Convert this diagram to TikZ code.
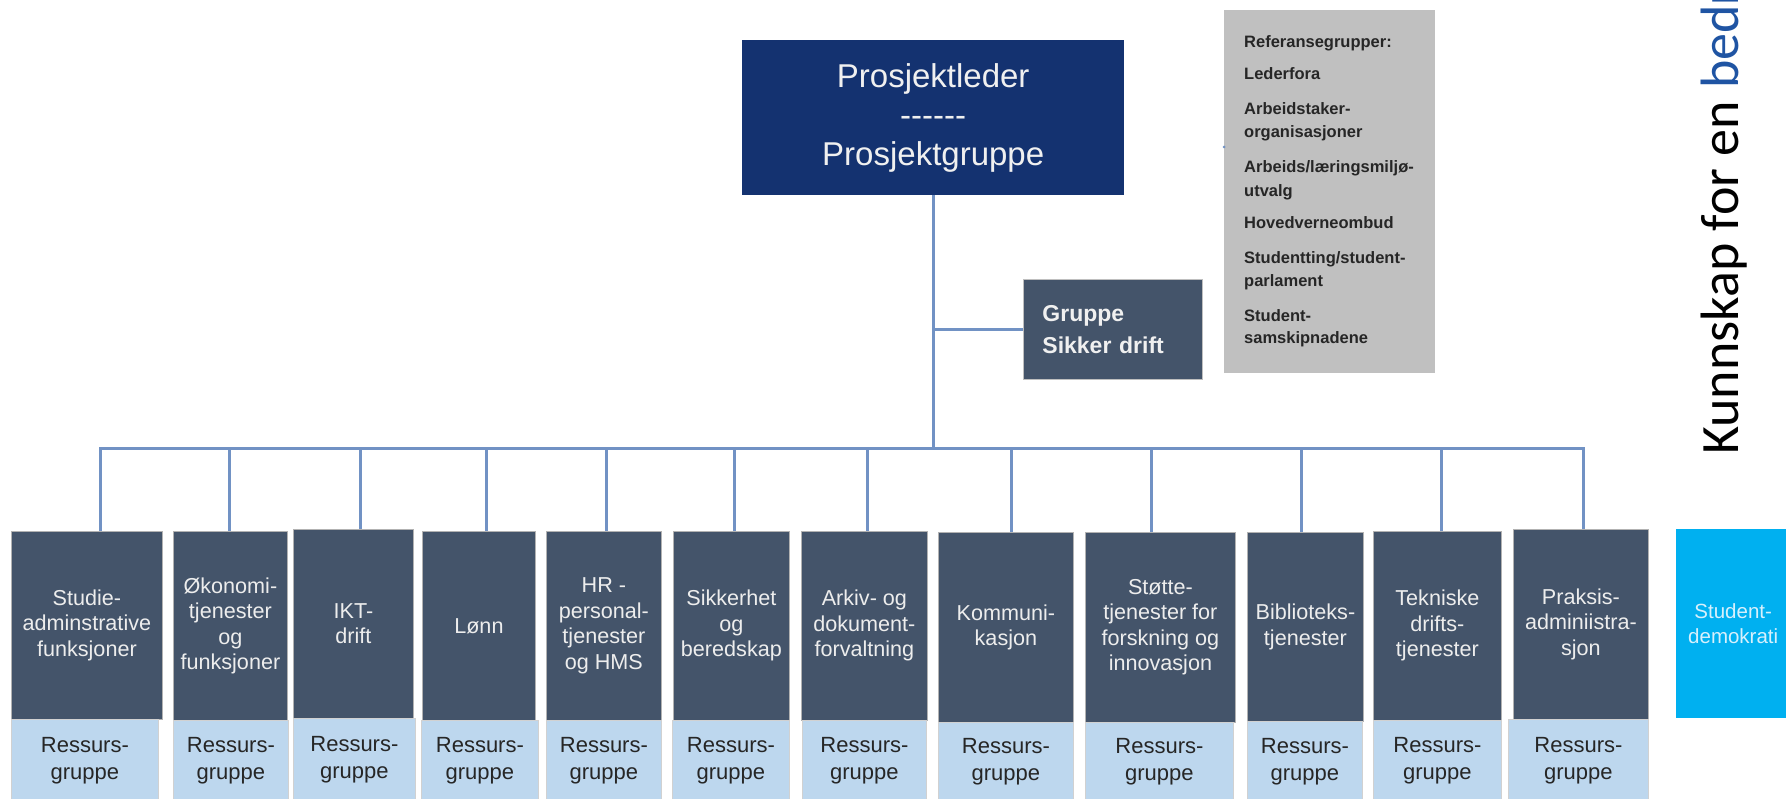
\documentclass[tikz,border=0pt]{standalone}
\usepackage{fontspec}
\setmainfont{Liberation Sans}
\newfontfamily\sloganfont{Carlito}
\definecolor{navy}{RGB}{20,50,112}
\definecolor{slate}{RGB}{68,84,106}
\definecolor{pale}{RGB}{189,215,238}
\definecolor{linkblue}{RGB}{113,146,196}
\definecolor{refgrey}{RGB}{192,192,192}
\definecolor{cyanbox}{RGB}{0,176,240}
\definecolor{sloganblue}{RGB}{31,84,163}
\begin{document}
\begin{tikzpicture}[x=1pt,y=-1pt,
  dark/.style={draw=black!30, line width=0.8pt, fill=slate, text=white!93!black, align=center,
    inner sep=0pt, anchor=north west, font=\fontsize{21.6}{25.5}\selectfont},
  palebox/.style={draw=black!18, line width=0.8pt, fill=pale, text=black!85, align=center,
    inner sep=0pt, anchor=north west, font=\fontsize{22}{27}\selectfont},
  link/.style={draw=linkblue, line width=3pt, line join=miter},
  reftxt/.style={anchor=base west, inner sep=0pt, text=black!85, font=\fontsize{16.5}{20}\selectfont\bfseries}]
\clip (0,0) rectangle (1786,799);
\fill[white] (0,0) rectangle (1786,799);

% top boxes
\node[fill=navy, inner sep=0pt, minimum width=382pt, minimum height=155pt, anchor=north west,
  text=white!94!black, align=center, font=\fontsize{33}{39}\selectfont] (pl) at (742,40)
  {Prosjektleder\\-\kern0pt-\kern0pt-\kern0pt-\kern0pt-\kern0pt-\\Prosjektgruppe};
\node[fill=slate, draw=black!25, line width=0.8pt, inner sep=0pt, minimum width=179pt, minimum height=100pt,
  anchor=north west, text=white!94!black, align=left, text width=141pt,
  font=\fontsize{23}{32}\selectfont\bfseries] (gsd) at (1023,279) {Gruppe\\Sikker drift};

% reference groups
\node[fill=refgrey, inner sep=0pt, minimum width=211pt, minimum height=363pt, anchor=north west] (ref) at (1224,10) {};
\node[reftxt] (r1) at (1244,48) {Referansegrupper:};
\node[reftxt] (r2) at (1244,80) {Lederfora};
\node[reftxt] (r3) at (1244,115) {Arbeidstaker-};
\node[reftxt] (r4) at (1244,138) {organisasjoner};
\node[reftxt] (r5) at (1244,173) {Arbeids/læringsmiljø-};
\node[reftxt] (r6) at (1244,197) {utvalg};
\node[reftxt] (r7) at (1244,229) {Hovedverneombud};
\node[reftxt] (r8) at (1244,264) {Studentting/student-};
\node[reftxt] (r9) at (1244,287) {parlament};
\node[reftxt] (r10) at (1244,322) {Student-};
\node[reftxt] (r11) at (1244,344) {samskipnadene};
\fill[linkblue] (1224,147) circle (1.5pt);

% unit boxes
\node[dark, minimum width=151pt, minimum height=188pt] (b1) at (11,531) {Studie-\\adminstrative\\funksjoner};
\node[dark, minimum width=114pt, minimum height=189pt] (b2) at (173,531) {Økonomi-\\tjenester\\og\\funksjoner};
\node[dark, minimum width=120pt, minimum height=189pt] (b3) at (293,529) {IKT-\\drift};
\node[dark, minimum width=113pt, minimum height=189pt] (b4) at (422,531) {Lønn};
\node[dark, minimum width=115pt, minimum height=189pt] (b5) at (546,531) {HR -\\personal-\\tjenester\\og HMS};
\node[dark, minimum width=116pt, minimum height=189pt] (b6) at (673,531) {Sikkerhet\\og\\beredskap};
\node[dark, minimum width=126pt, minimum height=189pt] (b7) at (801,531) {Arkiv- og\\dokument-\\forvaltning};
\node[dark, minimum width=135pt, minimum height=190pt] (b8) at (938,532) {Kommuni-\\kasjon};
\node[dark, minimum width=150pt, minimum height=190pt] (b9) at (1085,532) {Støtte-\\tjenester for\\forskning og\\innovasjon};
\node[dark, minimum width=116pt, minimum height=189pt] (b10) at (1247,532) {Biblioteks-\\tjenester};
\node[dark, minimum width=128pt, minimum height=189pt] (b11) at (1373,531) {Tekniske\\drifts-\\tjenester};
\node[dark, minimum width=135pt, minimum height=190pt] (b12) at (1513,529) {Praksis-\\adminiistra-\\sjon};

\node[palebox, minimum width=147pt, minimum height=82pt] (g1) at (11,719) {Ressurs-\\gruppe};
\node[palebox, minimum width=115pt, minimum height=81pt] (g2) at (173,720) {Ressurs-\\gruppe};
\node[palebox, minimum width=122pt, minimum height=83pt] (g3) at (293,718) {Ressurs-\\gruppe};
\node[palebox, minimum width=117pt, minimum height=81pt] (g4) at (421,720) {Ressurs-\\gruppe};
\node[palebox, minimum width=115pt, minimum height=81pt] (g5) at (546,720) {Ressurs-\\gruppe};
\node[palebox, minimum width=117pt, minimum height=81pt] (g6) at (672,720) {Ressurs-\\gruppe};
\node[palebox, minimum width=124pt, minimum height=81pt] (g7) at (802,720) {Ressurs-\\gruppe};
\node[palebox, minimum width=135pt, minimum height=79pt] (g8) at (938,722) {Ressurs-\\gruppe};
\node[palebox, minimum width=148pt, minimum height=79pt] (g9) at (1085,722) {Ressurs-\\gruppe};
\node[palebox, minimum width=115pt, minimum height=80pt] (g10) at (1247,721) {Ressurs-\\gruppe};
\node[palebox, minimum width=128pt, minimum height=81pt] (g11) at (1373,720) {Ressurs-\\gruppe};
\node[palebox, minimum width=140pt, minimum height=82pt] (g12) at (1508,719) {Ressurs-\\gruppe};

\node[fill=cyanbox, inner sep=0pt, minimum width=114pt, minimum height=189pt, anchor=north west,
  text={rgb,255:red,215;green,240;blue,252}, align=center, font=\fontsize{20.5}{25}\selectfont] (sd) at (1676,529)
  {Student-\\demokrati};

% slogan
\node[rotate=90, anchor=base west, inner sep=0pt, font=\sloganfont\fontsize{54}{60}\selectfont] (slogan)
  at (1738,455) {Kunnskap for en \textcolor{sloganblue}{bedre}};

% connectors
\coordinate (d1) at (100,448);
\coordinate (d2) at (229,448);
\coordinate (d3) at (360,448);
\coordinate (d4) at (486,448);
\coordinate (d5) at (606,448);
\coordinate (d6) at (734,448);
\coordinate (d7) at (867,448);
\coordinate (d8) at (1011,448);
\coordinate (d9) at (1151,448);
\coordinate (d10) at (1301,448);
\coordinate (d11) at (1441,448);
\coordinate (d12) at (1583,448);
\draw[link] (d1 |- b1.north) -- (d1) -- (d12) -- (d12 |- b12.north);
\foreach \i in {2,...,11} {\draw[link] (d\i) -- (d\i |- b\i.north);}
\draw[link] (pl.south) -- (pl.south |- d1);
\draw[link] (pl.south |- gsd.west) -- (gsd.west);
\end{tikzpicture}
\end{document}
